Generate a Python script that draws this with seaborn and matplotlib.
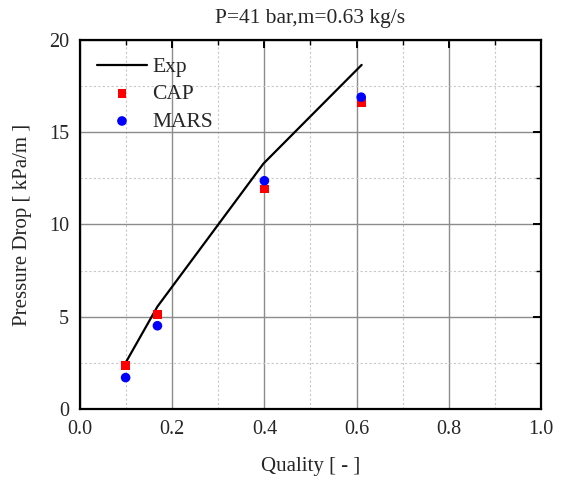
import matplotlib
matplotlib.use("Agg")
import matplotlib.pyplot as plt
from matplotlib.ticker import MultipleLocator
import seaborn as sns
import pandas as pd

# Experimental pressure-drop curve and model predictions
exp_quality = [0.10, 0.168, 0.398, 0.611]
exp_dp = [2.55, 5.55, 13.3, 18.65]

cap_quality = [0.099, 0.168, 0.40, 0.61]
cap_dp = [2.37, 5.11, 11.92, 16.6]

mars_quality = [0.099, 0.168, 0.40, 0.61]
mars_dp = [1.70, 4.51, 12.37, 16.9]

x_ticks = [0.0, 0.2, 0.4, 0.6, 0.8, 1.0]
y_ticks = [0, 5, 10, 15, 20]

sns.set_style("white")
plt.rcParams["font.family"] = ["Liberation Serif", "DejaVu Serif"]

fig = plt.figure(figsize=(5.64, 4.8), dpi=100)
ax = fig.add_axes([0.1418, 0.148, 0.8174, 0.7687])

exp_df = pd.DataFrame({"x": exp_quality, "y": exp_dp})
cap_df = pd.DataFrame({"x": cap_quality, "y": cap_dp})
mars_df = pd.DataFrame({"x": mars_quality, "y": mars_dp})

sns.lineplot(data=exp_df, x="x", y="y", ax=ax, color="black", lw=1.6,
             label="Exp", sort=False, zorder=3)
sns.scatterplot(data=cap_df, x="x", y="y", ax=ax, marker="s", color="#ff0000",
                s=40, edgecolor="none", label="CAP", zorder=4)
sns.scatterplot(data=mars_df, x="x", y="y", ax=ax, marker="o", color="#0000ff",
                s=48, edgecolor="none", label="MARS", zorder=5)

ax.set_xlim(0, 1.0)
ax.set_ylim(0, 20)
ax.set_xticks(x_ticks)
ax.set_yticks(y_ticks)
ax.set_xticklabels([f"{v:.1f}" for v in x_ticks])
ax.set_yticklabels([str(v) for v in y_ticks])
ax.xaxis.set_minor_locator(MultipleLocator(0.1))
ax.yaxis.set_minor_locator(MultipleLocator(2.5))

ax.grid(which="major", color="#8c8c8c", lw=1.0, ls="-")
ax.grid(which="minor", color="#c8c8c8", lw=0.8, ls=(0, (2, 2)))
ax.set_axisbelow(True)

ax.tick_params(which="major", direction="in", length=6, width=1.4,
               top=True, right=True, labelsize=14.5, color="black", pad=8)
ax.tick_params(which="minor", direction="in", length=3.5, width=1.0,
               top=True, right=True, color="black")
for sp in ax.spines.values():
    sp.set_color("black")
    sp.set_linewidth(1.6)

ax.set_xlabel("Quality [ - ]", fontsize=15, labelpad=13)
ax.set_ylabel("Pressure Drop [ kPa/m ]", fontsize=15, labelpad=12)

ax.set_title("P=41 bar,m=0.63 kg/s", fontsize=15.5, pad=12)

leg = ax.legend(loc="upper left", frameon=False, fontsize=15.5, handlelength=2.3,
                handletextpad=0.25, labelspacing=0.33, borderaxespad=0.4,
                bbox_to_anchor=(0.0, 1.0))

fig.savefig("out.png", dpi=100)
